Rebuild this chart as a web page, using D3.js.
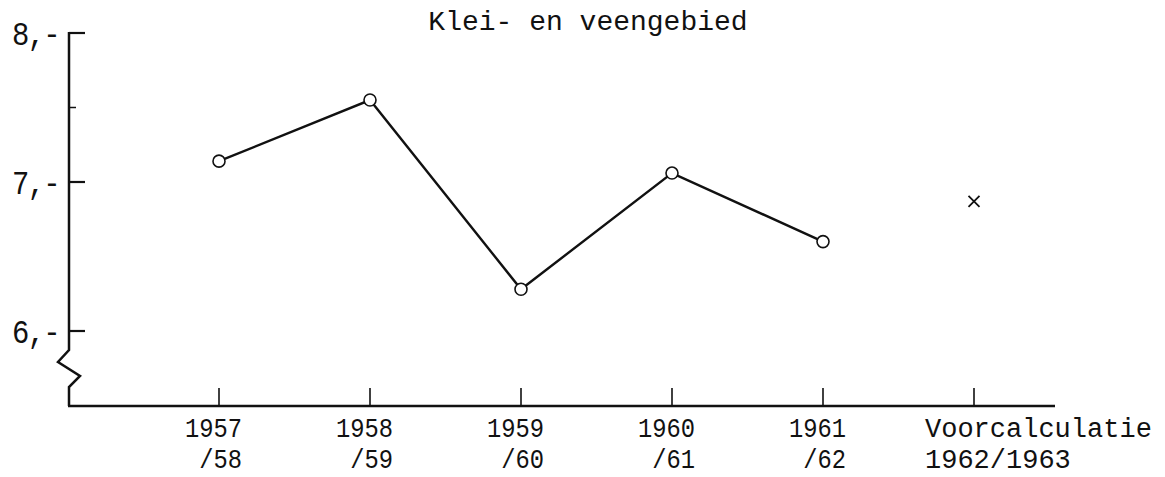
<!DOCTYPE html>
<html>
<head>
<meta charset="utf-8">
<script src="https://cdn.jsdelivr.net/npm/d3@7"></script>
<style>
	body { margin: 0; background: #fff; }
	text { font-family: "Liberation Mono", "DejaVu Sans Mono", monospace; fill: #111; }
</style>
</head>
<body>
<div id="chart"></div>
<script>
var width = 1165,
	height = 477;

// data
var seasons = ["1957/58", "1958/59", "1959/60", "1960/61", "1961/62", "1962/63"];
var labelTop = ["1957", "1958", "1959", "1960", "1961", "Voorcalculatie"];
var labelBottom = ["/58", "/59", "/60", "/61", "/62", "1962/1963"];
var actual = [7.14, 7.55, 6.28, 7.06, 6.60];
var estimate = [6.87]; // voorcalculatie
var yTicks = [6, 7, 8];
var yMinor = [7.5];

var title = "Klei- en veengebied";

var svg = d3.select("#chart").append("svg")
	.attr("width", width)
	.attr("height", height);

var x = d3.scalePoint()
	.domain(seasons)
	.range([219, 974]);

var y = d3.scaleLinear()
	.domain([6, 8])
	.range([331, 33]);

var axisLeft = 69,
	axisBottom = 406;

/* Title */

svg.append("text")
	.attr("x", 588)
	.attr("y", 30)
	.attr("text-anchor", "middle")
	.attr("font-size", 28)
	.text(title);

/* Y axis with a break */

var breakPath = d3.path();
breakPath.moveTo(axisLeft, y(8) - 1);
breakPath.lineTo(axisLeft, 350);
breakPath.lineTo(58, 362);
breakPath.lineTo(80, 376);
breakPath.lineTo(axisLeft, 387);
breakPath.lineTo(axisLeft, axisBottom);

svg.append("path")
	.attr("d", breakPath.toString())
	.attr("fill", "none")
	.attr("stroke", "#111")
	.attr("stroke-width", 2.5);

svg.selectAll(".ytick")
	.data(yTicks)
	.enter().append("line")
	.attr("class", "ytick")
	.attr("x1", axisLeft)
	.attr("x2", axisLeft + 16)
	.attr("y1", function(d) { return y(d); })
	.attr("y2", function(d) { return y(d); })
	.attr("stroke", "#111")
	.attr("stroke-width", 2.2);

svg.selectAll(".yminor")
	.data(yMinor)
	.enter().append("line")
	.attr("class", "yminor")
	.attr("x1", axisLeft)
	.attr("x2", axisLeft + 7)
	.attr("y1", function(d) { return y(d); })
	.attr("y2", function(d) { return y(d); })
	.attr("stroke", "#111")
	.attr("stroke-width", 1.5);

svg.selectAll(".ylabel")
	.data(yTicks)
	.enter().append("text")
	.attr("class", "ylabel")
	.attr("transform", function(d) { return "translate(59," + (y(d) + 12) + ") scale(0.85,1)"; })
	.attr("text-anchor", "end")
	.attr("font-size", 34)
	.attr("letter-spacing", -2)
	.text(function(d) { return d + ",-"; });

/* X axis */

svg.append("line")
	.attr("x1", axisLeft - 1)
	.attr("x2", 1055)
	.attr("y1", axisBottom)
	.attr("y2", axisBottom)
	.attr("stroke", "#111")
	.attr("stroke-width", 2.5);

svg.selectAll(".xtick")
	.data(seasons)
	.enter().append("line")
	.attr("class", "xtick")
	.attr("x1", function(d) { return x(d); })
	.attr("x2", function(d) { return x(d); })
	.attr("y1", axisBottom)
	.attr("y2", axisBottom - 18)
	.attr("stroke", "#111")
	.attr("stroke-width", 1.6);

var xl = svg.selectAll(".xlabel")
	.data(seasons)
	.enter().append("g")
	.attr("class", "xlabel")
	.attr("transform", function(d) { return "translate(" + x(d) + ",0)"; });

xl.append("text")
	.attr("transform", function(d, i) { return i < 5 ? "translate(23,437) scale(0.88,1)" : "translate(-49,437)"; })
	.attr("text-anchor", function(d, i) { return i < 5 ? "end" : "start"; })
	.attr("font-size", function(d, i) { return i < 5 ? 27 : 27; })
	.text(function(d, i) { return labelTop[i]; });

xl.append("text")
	.attr("transform", function(d, i) { return i < 5 ? "translate(23,468) scale(0.88,1)" : "translate(-49,468)"; })
	.attr("text-anchor", function(d, i) { return i < 5 ? "end" : "start"; })
	.attr("font-size", 27)
	.text(function(d, i) { return labelBottom[i]; });

/* Line with open circles */

var line = d3.line()
	.x(function(d, i) { return x(seasons[i]); })
	.y(function(d) { return y(d); });

svg.append("path")
	.datum(actual)
	.attr("d", line)
	.attr("fill", "none")
	.attr("stroke", "#111")
	.attr("stroke-width", 2.4);

svg.selectAll(".dot")
	.data(actual)
	.enter().append("circle")
	.attr("class", "dot")
	.attr("cx", function(d, i) { return x(seasons[i]); })
	.attr("cy", function(d) { return y(d); })
	.attr("r", 6)
	.attr("fill", "#fff")
	.attr("stroke", "#111")
	.attr("stroke-width", 1.6);

/* Cross for the estimate */

svg.selectAll(".cross")
	.data(estimate)
	.enter().append("path")
	.attr("class", "cross")
	.attr("transform", function(d) { return "translate(" + x(seasons[5]) + "," + y(d) + ")"; })
	.attr("d", "M-5.5,-5.5L5.5,5.5M-5.5,5.5L5.5,-5.5")
	.attr("stroke", "#111")
	.attr("stroke-width", 1.8);
</script>
</body>
</html>
